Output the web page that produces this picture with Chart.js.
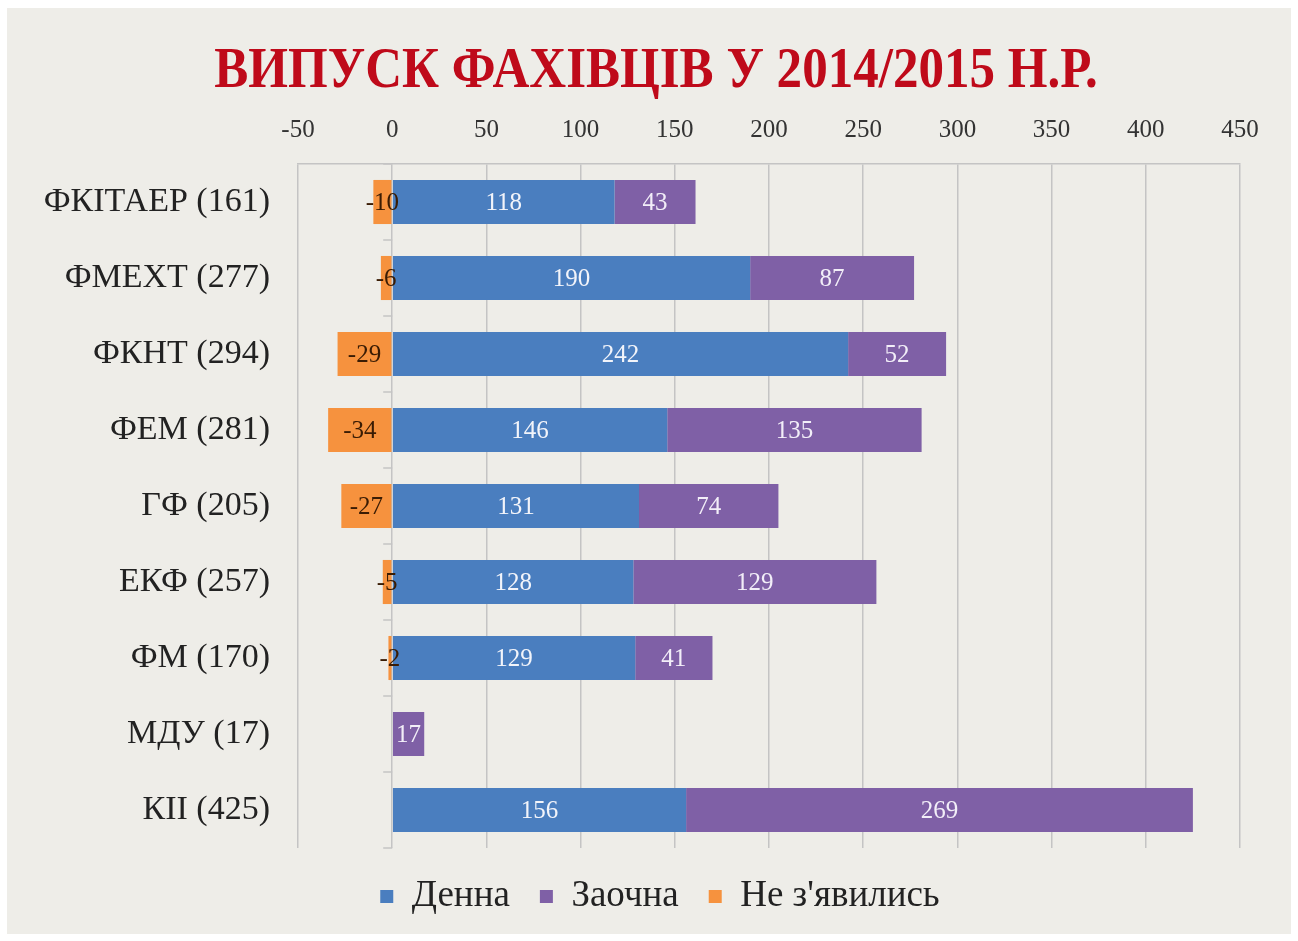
<!DOCTYPE html>
<html>
<head>
<meta charset="utf-8">
<script src="https://cdn.jsdelivr.net/npm/chart.js@4"></script>
<style>
  html, body { margin: 0; padding: 0; background: #fff; }
  #wrap { width: 1298px; height: 941px; }
</style>
</head>
<body>
<div id="wrap"><canvas id="chartCanvas" width="1298" height="941"></canvas></div>
<script>
// дані
const faculties = ["ФКІТАЕР (161)", "ФМЕХТ (277)", "ФКНТ (294)", "ФЕМ (281)", "ГФ (205)", "ЕКФ (257)", "ФМ (170)", "МДУ (17)", "КІІ (425)"];
const denna = [118, 190, 242, 146, 131, 128, 129, null, 156];
const zaochna = [43, 87, 52, 135, 74, 129, 41, 17, 269];
const neZyavylys = [-10, -6, -29, -34, -27, -5, -2, null, null];
const xMin = -50, xMax = 450, xStep = 50;
const titleText = "ВИПУСК ФАХІВЦІВ У 2014/2015 Н.Р.";

const serif = "'Liberation Serif', 'Times New Roman', serif";

// фон слайда і заголовок
const slideBg = {
  id: "slideBg",
  afterLayout: (chart) => {
    // легенда в оригіналі трохи зсунута праворуч
    chart.legend.left += 36;
    chart.legend.right += 36;
  },
  beforeDraw: (chart) => {
    const ctx = chart.ctx;
    ctx.save();
    ctx.fillStyle = "#ffffff";
    ctx.fillRect(0, 0, chart.width, chart.height);
    ctx.fillStyle = "#eeede8";
    ctx.fillRect(7, 8, chart.width - 14, chart.height - 15);
    // заголовок трохи стиснутий по ширині
    ctx.translate(656, 87);
    ctx.scale(0.88, 1);
    ctx.font = "bold 58px " + serif;
    ctx.fillStyle = "#bf0a1a";
    ctx.textAlign = "center";
    ctx.textBaseline = "alphabetic";
    ctx.fillText(titleText, 0, 0);
    ctx.restore();
  },
};

// підписи значень на стовпчиках + риски на осі 0
const barLabels = {
  id: "barLabels",
  afterDatasetsDraw: (chart) => {
    const ctx = chart.ctx;
    const xs = chart.scales.x, ys = chart.scales.y;
    ctx.save();
    const x0 = xs.getPixelForValue(0);
    ctx.strokeStyle = "#c4c4c4";
    ctx.lineWidth = 1.5;
    for (let i = 0; i <= faculties.length; i++) {
      const yy = ys.getPixelForValue(i - 0.5);
      ctx.beginPath();
      ctx.moveTo(x0 - 9, yy);
      ctx.lineTo(x0, yy);
      ctx.stroke();
    }
    ctx.font = "25px " + serif;
    ctx.textAlign = "center";
    ctx.textBaseline = "middle";
    chart.data.datasets.forEach((ds, i) => {
      const meta = chart.getDatasetMeta(i);
      meta.data.forEach((bar, j) => {
        const v = ds.data[j];
        if (v === null || v === undefined) return;
        const p = bar.getCenterPoint();
        ctx.fillStyle = ds.labelColor;
        ctx.fillText(String(v), p.x, p.y + 1);
      });
    });
    ctx.restore();
  },
};

new Chart(document.getElementById("chartCanvas"), {
  type: "bar",
  data: {
    labels: faculties,
    datasets: [
      { label: "Денна", data: denna, backgroundColor: "#4a7ebf", labelColor: "#f2f4fa" },
      { label: "Заочна", data: zaochna, backgroundColor: "#7f60a6", labelColor: "#f2eef8" },
      { label: "Не з'явились", data: neZyavylys, backgroundColor: "#f6923e", labelColor: "#3a1c04" },
    ],
  },
  options: {
    indexAxis: "y",
    responsive: false,
    animation: false,
    datasets: { bar: { categoryPercentage: 0.58, barPercentage: 1 } },
    layout: { padding: { left: 8, right: 58, top: 110, bottom: 16 } },
    scales: {
      x: {
        position: "top",
        stacked: true,
        min: xMin,
        max: xMax,
        ticks: { stepSize: xStep, color: "#333", font: { family: serif, size: 25 }, padding: 19 },
        grid: { color: "#c4c4c4", lineWidth: 1.5, drawTicks: false },
        border: { display: true, color: "#c4c4c4", width: 1.5 },
        afterFit: (scale) => { scale.height = 54; },
      },
      y: {
        stacked: true,
        ticks: { color: "#222", font: { family: serif, size: 34 }, padding: 28 },
        grid: { display: false, drawTicks: false },
        border: { display: false },
        afterFit: (scale) => { scale.width = 290; },
      },
    },
    plugins: {
      title: { display: false },
      legend: {
        position: "bottom",
        labels: {
          color: "#222",
          font: { family: serif, size: 37 },
          boxWidth: 13,
          boxHeight: 13,
          padding: 30,
        },
      },
      tooltip: { enabled: false },
    },
  },
  plugins: [slideBg, barLabels],
});
</script>
</body>
</html>
